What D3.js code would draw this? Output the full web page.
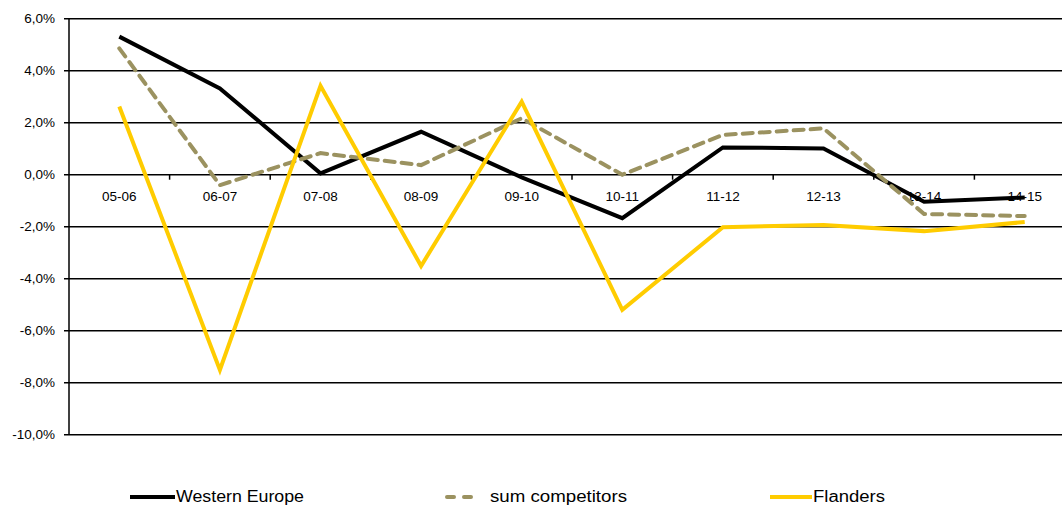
<!DOCTYPE html>
<html>
<head>
<meta charset="utf-8">
<script src="https://cdn.jsdelivr.net/npm/d3@7"></script>
<style>
  body { margin: 0; background: #fff; }
  text { font-family: "Liberation Sans", Arial, sans-serif; fill: #000; }
</style>
</head>
<body>
<div id="container"></div>
<script>
var categories = ["05-06", "06-07", "07-08", "08-09", "09-10", "10-11", "11-12", "12-13", "13-14", "14-15"];
var westernEurope = [5.31, 3.32, 0.05, 1.65, -0.1, -1.67, 1.05, 1.01, -1.04, -0.88];
var sumCompetitors = [4.86, -0.4, 0.83, 0.37, 2.17, 0.0, 1.53, 1.78, -1.51, -1.59];
var flanders = [2.62, -7.51, 3.42, -3.51, 2.81, -5.2, -2.02, -1.93, -2.17, -1.82];
var yTicks = [6, 4, 2, 0, -2, -4, -6, -8, -10];

var series = [
  {name: "Western Europe", values: westernEurope, color: "#000000", dash: null},
  {name: "sum competitors", values: sumCompetitors, color: "#9b9260", dash: "10,7"},
  {name: "Flanders", values: flanders, color: "#ffcc00", dash: null}
];

var W = 1062, H = 506;
var svg = d3.select("#container").append("svg")
    .attr("width", W).attr("height", H);

var x = d3.scaleBand().domain(categories).range([69, 1075]);
var y = d3.scaleLinear().domain([-10, 6]).range([434.7, 18.7]);

function fmt(v) { return v.toFixed(1).replace(".", ",") + "%"; }

// gridlines + y ticks
svg.append("g").selectAll("line")
    .data(yTicks)
    .enter().append("line")
    .attr("x1", 64).attr("x2", W)
    .attr("y1", function(d) { return y(d); })
    .attr("y2", function(d) { return y(d); })
    .attr("stroke", "#000").attr("stroke-width", 1.5);

svg.append("g").selectAll("text")
    .data(yTicks)
    .enter().append("text")
    .attr("x", 55)
    .attr("y", function(d) { return y(d); })
    .attr("dy", "0.35em")
    .attr("text-anchor", "end")
    .style("font-size", "13.5px")
    .text(fmt);

// y axis line
svg.append("line")
    .attr("x1", 69).attr("x2", 69)
    .attr("y1", y(6)).attr("y2", y(-10))
    .attr("stroke", "#000").attr("stroke-width", 1.5);

// x ticks on zero line
var tickPos = categories.slice(1).map(function(c) { return x(c); });
svg.append("g").selectAll("line")
    .data(tickPos)
    .enter().append("line")
    .attr("x1", function(d) { return d; }).attr("x2", function(d) { return d; })
    .attr("y1", y(0)).attr("y2", y(0) + 5)
    .attr("stroke", "#000").attr("stroke-width", 1.5);

svg.append("g").selectAll("text")
    .data(categories)
    .enter().append("text")
    .attr("x", function(d) { return x(d) + x.bandwidth() / 2; })
    .attr("y", y(0) + 26)
    .attr("text-anchor", "middle")
    .style("font-size", "13.5px")
    .text(function(d) { return d; });

// lines
var line = d3.line()
    .x(function(d, i) { return x(categories[i]) + x.bandwidth() / 2; })
    .y(function(d) { return y(d); });

series.forEach(function(s) {
  svg.append("path")
      .datum(s.values)
      .attr("d", line)
      .attr("fill", "none")
      .attr("stroke", s.color)
      .attr("stroke-width", 4)
      .attr("stroke-linejoin", "miter")
      .attr("stroke-linecap", s.dash ? "round" : "butt")
      .attr("stroke-dasharray", s.dash);
});

// legend
var legendX = [130, 447, 770];
var legendW = [45, 33, 42];
var textW = [128, 137, 72];
var ly = 497;
series.forEach(function(s, i) {
  svg.append("line")
      .attr("x1", legendX[i]).attr("x2", legendX[i] + legendW[i])
      .attr("y1", ly).attr("y2", ly)
      .attr("stroke", s.color)
      .attr("stroke-width", 4)
      .attr("stroke-linecap", s.dash ? "round" : "butt")
      .attr("stroke-dasharray", s.dash ? "7,10" : null);
  svg.append("text")
      .attr("x", legendX[i] + legendW[i] + (s.dash ? 10 : 1))
      .attr("y", ly + 5)
      .attr("textLength", textW[i])
      .attr("lengthAdjust", "spacingAndGlyphs")
      .style("font-size", "16px")
      .text(s.name);
});
</script>
</body>
</html>
